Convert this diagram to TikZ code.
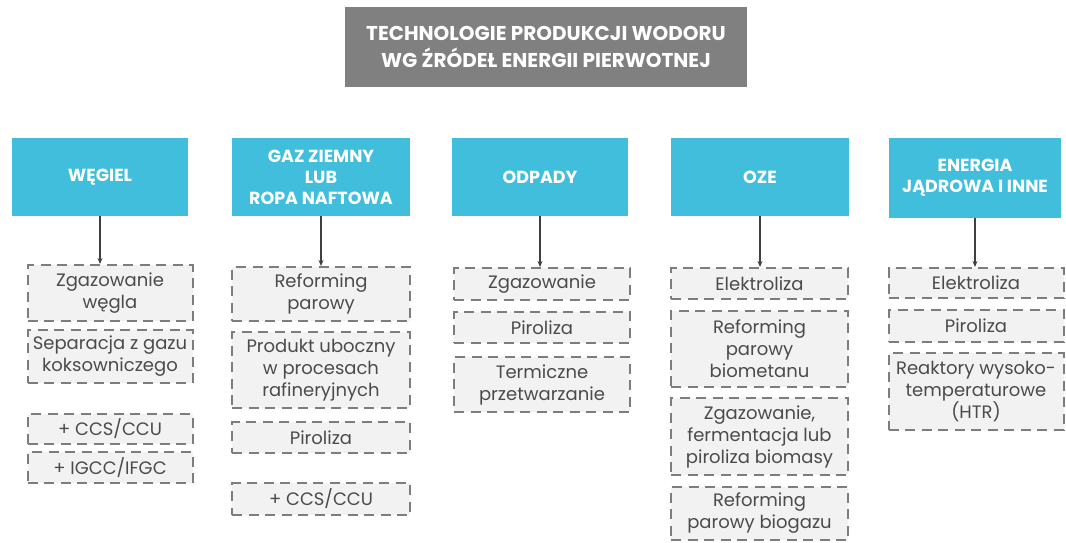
\documentclass[tikz,border=0pt]{standalone}
\usepackage{fontspec}
\setmainfont{Poppins}
\usepackage{tikz}
\usetikzlibrary{arrows.meta, positioning}

\definecolor{headcyan}{RGB}{65,190,220}
\definecolor{titlegray}{RGB}{128,128,128}
\definecolor{boxfill}{RGB}{242,242,242}
\definecolor{dashgray}{RGB}{125,125,125}
\definecolor{textgray}{RGB}{75,75,75}

\tikzset{
  titlebox/.style={fill=titlegray, text=white, font=\bfseries\fontsize{20}{27}\selectfont,
    minimum width=402pt, minimum height=80pt, align=center, inner sep=0pt},
  headbox/.style={fill=headcyan, text=white, font=\bfseries\fontsize{17.5}{21}\selectfont,
    minimum height=78pt, align=center, inner sep=0pt},
  techbox/.style={fill=boxfill, draw=dashgray, line width=2pt, dash pattern=on 10pt off 6.5pt,
    text=textgray, font=\fontsize{18}{22}\selectfont, align=center, inner sep=0pt},
  feed/.style={draw=black!75, line width=1.3pt, -{Stealth[length=6pt,width=5pt]}}
}

\begin{document}
\begin{tikzpicture}[x=1pt,y=-1pt]
	\useasboundingbox (0,0) rectangle (1066,543);
	% title
	\node[titlebox] (title) at (546,47) {TECHNOLOGIE PRODUKCJI WODORU\\WG ŹRÓDEŁ ENERGII PIERWOTNEJ};
	% sources
	\node[headbox, minimum width=176pt] (weg) at (100,177) {WĘGIEL};
	\node[headbox, minimum width=178pt] (gaz) at (321,177) {GAZ ZIEMNY\\LUB\\ROPA NAFTOWA};
	\node[headbox, minimum width=176pt] (odp) at (540,177) {ODPADY};
	\node[headbox, minimum width=178pt] (oze) at (760,177) {OZE};
	\node[headbox, minimum width=172pt, minimum height=80pt] (ener) at (975,178) {ENERGIA\\JĄDROWA I INNE};
	% coal
	\node[techbox, minimum width=165pt, minimum height=56pt] (c1a) at (110,293) {Zgazowanie\\węgla};
	\node[techbox, minimum width=165pt, minimum height=53pt] (c1b) at (110,356.5) {Separacja z gazu\\koksowniczego};
	\node[techbox, minimum width=165pt, minimum height=30pt] (c1c) at (110,429) {+ CCS/CCU};
	\node[techbox, minimum width=165pt, minimum height=31pt] (c1d) at (110,467.5) {+ IGCC/IFGC};
	% gas and oil
	\node[techbox, minimum width=178pt, minimum height=54pt] (c2a) at (321,294) {Reforming\\parowy};
	\node[techbox, minimum width=178pt, minimum height=76pt] (c2b) at (321,370) {Produkt uboczny\\w procesach\\rafineryjnych};
	\node[techbox, minimum width=178pt, minimum height=31pt] (c2c) at (321,437.5) {Piroliza};
	\node[techbox, minimum width=178pt, minimum height=32pt] (c2d) at (321,499) {+ CCS/CCU};
	% waste
	\node[techbox, minimum width=176pt, minimum height=32pt] (c3a) at (542,284) {Zgazowanie};
	\node[techbox, minimum width=176pt, minimum height=31pt] (c3b) at (542,327.5) {Piroliza};
	\node[techbox, minimum width=176pt, minimum height=55pt] (c3c) at (542,384.5) {Termiczne\\przetwarzanie};
	% renewables
	\node[techbox, minimum width=177pt, minimum height=31pt] (c4a) at (759.5,283.5) {Elektroliza};
	\node[techbox, minimum width=177pt, minimum height=76pt] (c4b) at (759.5,349) {Reforming\\parowy\\biometanu};
	\node[techbox, minimum width=177pt, minimum height=77pt] (c4c) at (759.5,436.5) {Zgazowanie,\\fermentacja lub\\piroliza biomasy};
	\node[techbox, minimum width=177pt, minimum height=53pt] (c4d) at (759.5,513.5) {Reforming\\parowy biogazu};
	% nuclear and other
	\node[techbox, minimum width=175pt, minimum height=30pt] (c5a) at (976,283) {Elektroliza};
	\node[techbox, minimum width=175pt, minimum height=32pt] (c5b) at (976,326) {Piroliza};
	\node[techbox, minimum width=175pt, minimum height=77pt] (c5c) at (976,391.5) {Reaktory wysoko-\\temperaturowe\\(HTR)};
	% arrows
	\draw[feed] (weg.south) -- (weg.south |- c1a.north);
	\draw[feed] (gaz.south) -- (gaz.south |- c2a.north);
	\draw[feed] (odp.south) -- (odp.south |- c3a.north);
	\draw[feed] (oze.south) -- (oze.south |- c4a.north);
	\draw[feed] (ener.south) -- (ener.south |- c5a.north);
\end{tikzpicture}
\end{document}
